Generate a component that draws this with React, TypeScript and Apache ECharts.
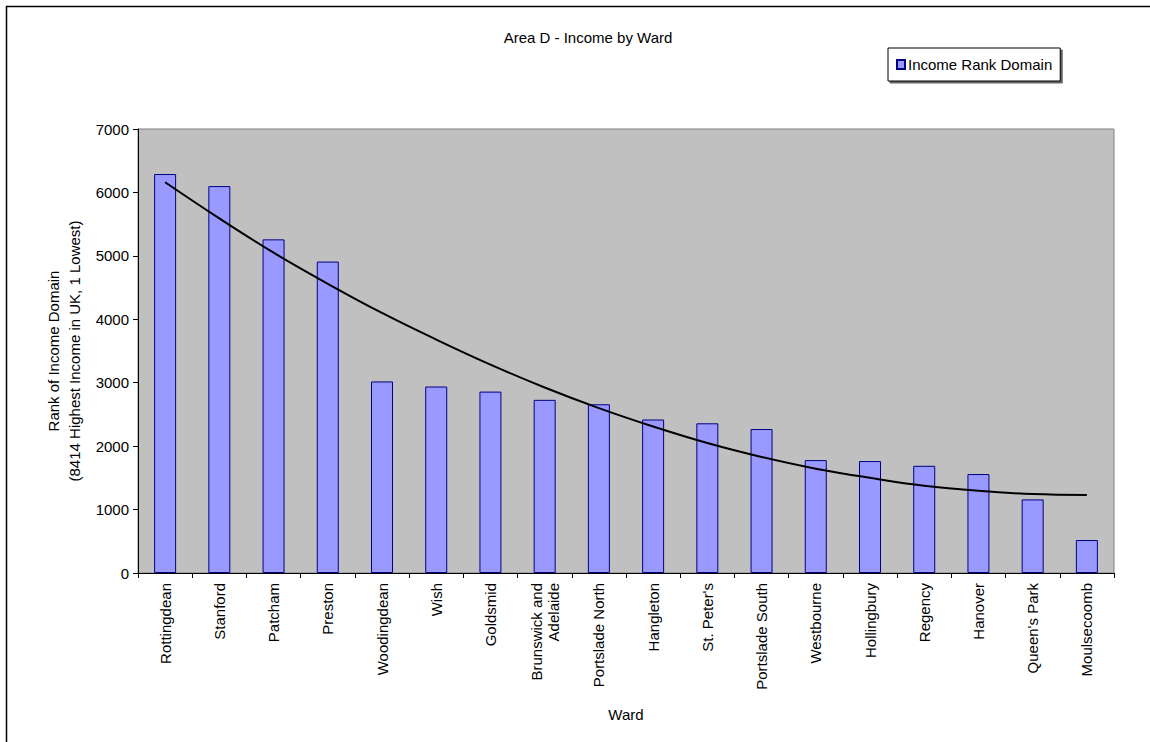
import React, { useEffect, useRef } from "react";
import * as echarts from "echarts";

const wards = [
  "Rottingdean", "Stanford", "Patcham", "Preston", "Woodingdean", "Wish",
  "Goldsmid", "Brunswick and\nAdelaide", "Portslade North", "Hangleton",
  "St. Peter's", "Portslade South", "Westbourne", "Hollingbury", "Regency",
  "Hanover", "Queen's Park", "Moulsecoomb",
];
const incomeRank = [
  6290, 6100, 5260, 4910, 3020, 2940, 2860, 2730, 2660, 2420, 2360, 2270,
  1780, 1765, 1690, 1560, 1160, 520,
];
const trendValues = [
  6160, 5590, 5050, 4560, 4100, 3680, 3285, 2925, 2600, 2310, 2050, 1830,
  1645, 1500, 1375, 1295, 1245, 1230,
];
const yTicks = [0, 1000, 2000, 3000, 4000, 5000, 6000, 7000];

const FONT = "'Liberation Sans', Arial, sans-serif";

export default function App() {
  const ref = useRef<HTMLDivElement>(null);
  useEffect(() => {
    document.body.style.margin = "0";
    const chart = echarts.init(ref.current!, undefined, { renderer: "svg" });
    chart.setOption({
      animation: false,
      backgroundColor: "#ffffff",
      textStyle: { fontFamily: FONT },
      title: {
        text: "Area D - Income by Ward",
        left: 583,
        textAlign: "center",
        top: 25,
        textStyle: { fontSize: 15, fontWeight: "normal", color: "#000", fontFamily: FONT },
      },
      legend: {
        data: ["Income Rank Domain"],
        left: 888,
        top: 48,
        orient: "vertical",
        padding: [9, 8, 9, 8],
        backgroundColor: "#ffffff",
        borderColor: "#000000",
        borderWidth: 1,
        shadowColor: "rgba(0,0,0,0.6)",
        shadowOffsetX: 2,
        shadowOffsetY: 2,
        shadowBlur: 0,
        itemWidth: 8,
        itemHeight: 9,
        itemGap: 4,
        icon: "rect",
        textStyle: { fontSize: 15, color: "#000", fontFamily: FONT, padding: [0, 0, 0, -2] },
      },
      graphic: [
        {
          type: "rect",
          shape: { x: 6.5, y: 6.5, width: 1300, height: 900 },
          style: { fill: "none", stroke: "#000", lineWidth: 1.5 },
          silent: true,
        },
      ],
      grid: {
        left: 138,
        right: 36,
        top: 129,
        bottom: 169,
        show: true,
        backgroundColor: "#C0C0C0",
        borderColor: "#808080",
        borderWidth: 1,
      },
      xAxis: {
        type: "category",
        data: wards,
        boundaryGap: true,
        name: "Ward",
        nameLocation: "middle",
        nameGap: 134,
        nameTextStyle: { fontSize: 15, color: "#000", fontFamily: FONT },
        axisLine: { lineStyle: { color: "#000", width: 1 } },
        axisTick: { show: true, length: 5, lineStyle: { color: "#000" } },
        axisLabel: {
          interval: 0,
          rotate: 90,
          margin: 10,
          fontSize: 15,
          color: "#000",
          fontFamily: FONT,
          lineHeight: 17,
        },
        splitLine: { show: false },
      },
      yAxis: {
        type: "value",
        min: yTicks[0],
        max: yTicks[yTicks.length - 1],
        interval: 1000,
        name: "Rank of Income Domain\n(8414 Highest Income in UK, 1 Lowest)",
        nameLocation: "middle",
        nameGap: 47,
        nameTextStyle: { fontSize: 15, color: "#000", fontFamily: FONT, lineHeight: 21 },
        axisLine: { show: true, lineStyle: { color: "#000", width: 1 } },
        axisTick: { show: true, length: 5, lineStyle: { color: "#000" } },
        axisLabel: {
          fontSize: 15,
          color: "#000",
          fontFamily: FONT,
          margin: 9,
          formatter: (v: number) => String(v),
        },
        splitLine: { show: false },
      },
      series: [
        {
          name: "Income Rank Domain",
          type: "bar",
          data: incomeRank,
          barWidth: 22,
          itemStyle: { color: "#9999FF", borderColor: "#000080", borderWidth: 1 },
          z: 2,
        },
        {
          name: "Trend",
          type: "line",
          data: trendValues,
          smooth: 0.4,
          showSymbol: false,
          symbol: "none",
          lineStyle: { color: "#000", width: 2 },
          z: 3,
        },
      ],
    });
    return () => chart.dispose();
  }, []);
  return <div ref={ref} style={{ width: 1150, height: 742 }} />;
}
